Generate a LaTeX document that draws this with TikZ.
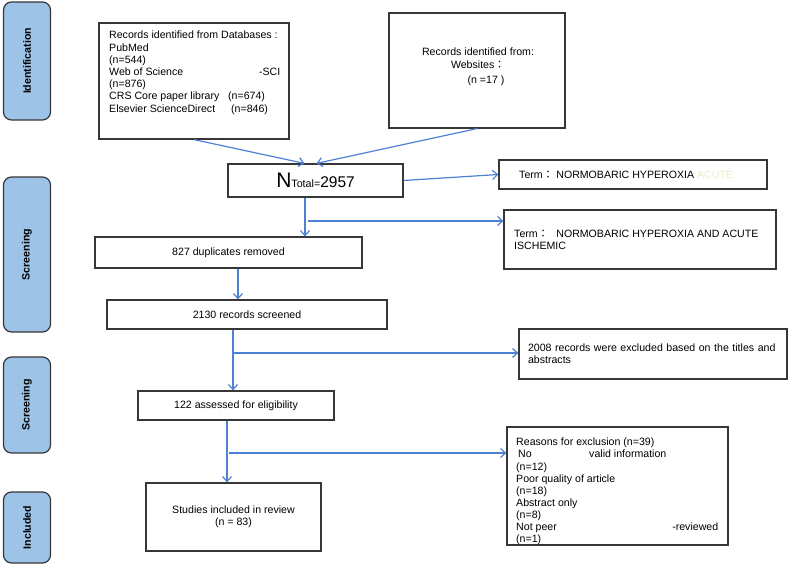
\documentclass[tikz,border=0pt]{standalone}
\usepackage{fontspec}
\setmainfont{Liberation Sans}
\newfontfamily\cjk{Noto Sans CJK TC}
\usetikzlibrary{arrows.meta,calc}
\definecolor{arrblue}{RGB}{78,128,214}
\definecolor{sidefill}{RGB}{157,195,230}
\definecolor{boxline}{RGB}{55,55,55}
\definecolor{faint}{RGB}{232,238,200}
\begin{document}
\begin{tikzpicture}[x=1bp,y=-1bp,
  box/.style={draw=boxline,line width=1.2bp,rectangle,inner sep=0pt,
    font=\fontsize{10.6bp}{12.2bp}\selectfont},
  side/.style={draw=boxline,line width=1.2bp,fill=sidefill,rounded corners=8bp,
    rotate=90,inner sep=0pt,font=\bfseries\fontsize{10.6bp}{12bp}\selectfont},
  txt/.style={inner sep=0pt,font=\fontsize{10.6bp}{12.2bp}\selectfont},
  arr/.style={draw=arrblue,line width=1.2bp,-{Straight Barb[length=5bp,width=9bp]}},
  ln/.style={draw=arrblue,line width=1.2bp}]
\useasboundingbox (0,0) rectangle (789,565);

% side labels
\node[side,minimum width=118bp,minimum height=47bp] (sid) at (27,61) {Identification};
\node[side,minimum width=155bp,minimum height=47bp] (ss1) at (27,254.5) {Screening};
\node[side,minimum width=96bp,minimum height=47bp] (ss2) at (27,405) {Screening};
\node[side,minimum width=71bp,minimum height=47bp] (sin) at (27,527.5) {Included};

% boxes
\node[box,minimum width=190bp,minimum height=116bp] (db) at (194,81) {};
\node[txt,anchor=north west,align=left] (dbt) at (109,31) {Records identified from Databases :\\
PubMed\\
(n=544)\\
\makebox[171bp][l]{Web of Science\hfill-SCI}\\
(n=876)\\
\makebox[119bp][l]{CRS Core paper library}(n=674)\\
\makebox[122bp][l]{Elsevier ScienceDirect}(n=846)};

\node[box,minimum width=176bp,minimum height=115bp] (web) at (477,70.5) {};
\node[txt,anchor=north,align=center] (webt) at (478,48) {Records identified from:\\
Websites{\cjk ：}\\[3bp]
\hspace*{16bp}(n =17 )};

\node[box,minimum width=175bp,minimum height=33bp] (nt) at (315.5,180.5)
  {{\fontsize{21bp}{21bp}\selectfont N}{\fontsize{10.7bp}{12bp}\selectfont Total=}{\fontsize{15.5bp}{16bp}\selectfont 2957}};

\node[box,minimum width=268bp,minimum height=29bp] (t1) at (633,174.5) {};
\node[txt,anchor=west] (t1t) at (519,175) {Term{\cjk ：}\hspace{3bp}NORMOBARIC HYPEROXIA {\color{faint}ACUTE}};

\node[box,minimum width=272bp,minimum height=59bp] (t2) at (640,239.5) {};
\node[txt,anchor=north west,align=left] (t2t) at (514,230) {Term{\cjk ：}\hspace{8bp}NORMOBARIC HYPEROXIA AND ACUTE\\ISCHEMIC};

\node[box,minimum width=267bp,minimum height=31bp] (d827) at (228.5,252.5) {827 duplicates removed};
\node[box,minimum width=280bp,minimum height=29bp] (s2130) at (247,314.5) {2130 records screened};
\node[box,minimum width=268bp,minimum height=50bp,text width=250bp,inner xsep=9bp,align=left] (ex) at (653,354)
  {2008 records were excluded based on the titles and\\abstracts};
\node[box,minimum width=196bp,minimum height=29bp] (e122) at (236,405.5) {122 assessed for eligibility};
\node[box,minimum width=175bp,minimum height=68bp,align=center,
  font=\fontsize{10.6bp}{11.7bp}\selectfont] (inc) at (233.5,517) {Studies included in review\\(n = 83)};

\node[box,minimum width=221bp,minimum height=118bp] (rsn) at (617.5,486) {};
\node[txt,anchor=north west,align=left,font=\fontsize{10.6bp}{12.1bp}\selectfont] (rsnt) at (516,438) {Reasons for exclusion (n=39)\\
\makebox[73bp][l]{\hspace*{2bp}No}valid information\\
(n=12)\\
Poor quality of article\\
(n=18)\\
Abstract only\\
(n=8)\\
\makebox[202bp][l]{Not peer\hfill-reviewed}\\
(n=1)};

% connector coordinates
\coordinate (c0) at (305,221);
\coordinate (c0s) at (308,221);
\coordinate (c1) at (238,0);
\coordinate (c2) at (233,353);
\coordinate (c2s) at (234,353);
\coordinate (c3) at (227,453);
\coordinate (c3s) at (229,453);

% connectors
\draw[arr] (db.south) -- ($(nt.north)+(-11,0)$);
\draw[arr] (web.south) -- ($(nt.north)+(1,0)$);
\draw[arr] (nt.east) -- (t1.west);
\draw[arr] (nt.south -| c0) -- (d827.north -| c0);
\draw[arr] (c0s) -- (t2.west |- c0s);
\draw[arr] (d827.south -| c1) -- (s2130.north -| c1);
\draw[arr] (s2130.south -| c2) -- (e122.north -| c2);
\draw[arr] (c2s) -- (ex.west |- c2s);
\draw[arr] (e122.south -| c3) -- (inc.north -| c3);
\draw[arr] (c3s) -- (rsn.west |- c3s);
\end{tikzpicture}
\end{document}
